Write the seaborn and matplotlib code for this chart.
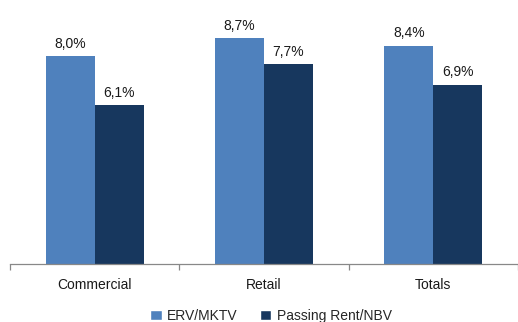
import matplotlib
matplotlib.use("Agg")
import matplotlib.pyplot as plt
import seaborn as sns
import pandas as pd
from matplotlib.patches import Patch

categories = ["Commercial", "Retail", "Totals"]
series = ["ERV/MKTV", "Passing Rent/NBV"]
erv = [8.0, 8.7, 8.4]
nbv = [6.1, 7.7, 6.9]
colors = ["#4F81BD", "#17375E"]

df = pd.DataFrame({
    "cat": categories * 2,
    "series": [series[0]] * 3 + [series[1]] * 3,
    "value": erv + nbv,
})

sns.set_style("white")
plt.rcParams["font.family"] = ["Liberation Sans", "DejaVu Sans"]

fig = plt.figure(figsize=(5.18, 3.22), dpi=100)
ax = fig.add_axes([10 / 518, 58 / 322, 508 / 518, 264 / 322])
sns.barplot(data=df, x="cat", y="value", hue="series", palette=colors,
            width=0.58, ax=ax, legend=False, saturation=1, linewidth=0)

for container, vals in zip(ax.containers, [erv, nbv]):
    for bar, v in zip(container, vals):
        ax.text(bar.get_x() + bar.get_width() / 2, v + 0.2,
                f"{v:.1f}%".replace(".", ","), ha="center", va="bottom",
                fontsize=10, color="#1a1a1a")

ax.set_xlim(-0.5, -0.5 + 508 / 171)
ax.set_ylim(0, 264 / 26)
ax.set_xlabel("")
ax.set_ylabel("")
ax.set_yticks([])
for s in ["top", "right", "left"]:
    ax.spines[s].set_visible(False)
ax.spines["bottom"].set_color("#888888")
ax.spines["bottom"].set_linewidth(0.9)
ax.tick_params(axis="x", which="major", length=0, pad=10, labelsize=10, labelcolor="#1a1a1a")
ax.set_xticks([-0.5, 0.5, 1.5, 2.5], minor=True)
ax.tick_params(axis="x", which="minor", bottom=True, length=4, color="#888888",
               width=0.9, direction="out")

handles = [Patch(facecolor=c, label=s) for c, s in zip(colors, series)]
fig.legend(handles=handles, loc="center", bbox_to_anchor=(271 / 518, 1 - 316 / 322),
           ncol=2, frameon=False, fontsize=10, handlelength=0.8, handleheight=0.8,
           handletextpad=0.4, columnspacing=1.6)

fig.savefig("out.png", dpi=100)
